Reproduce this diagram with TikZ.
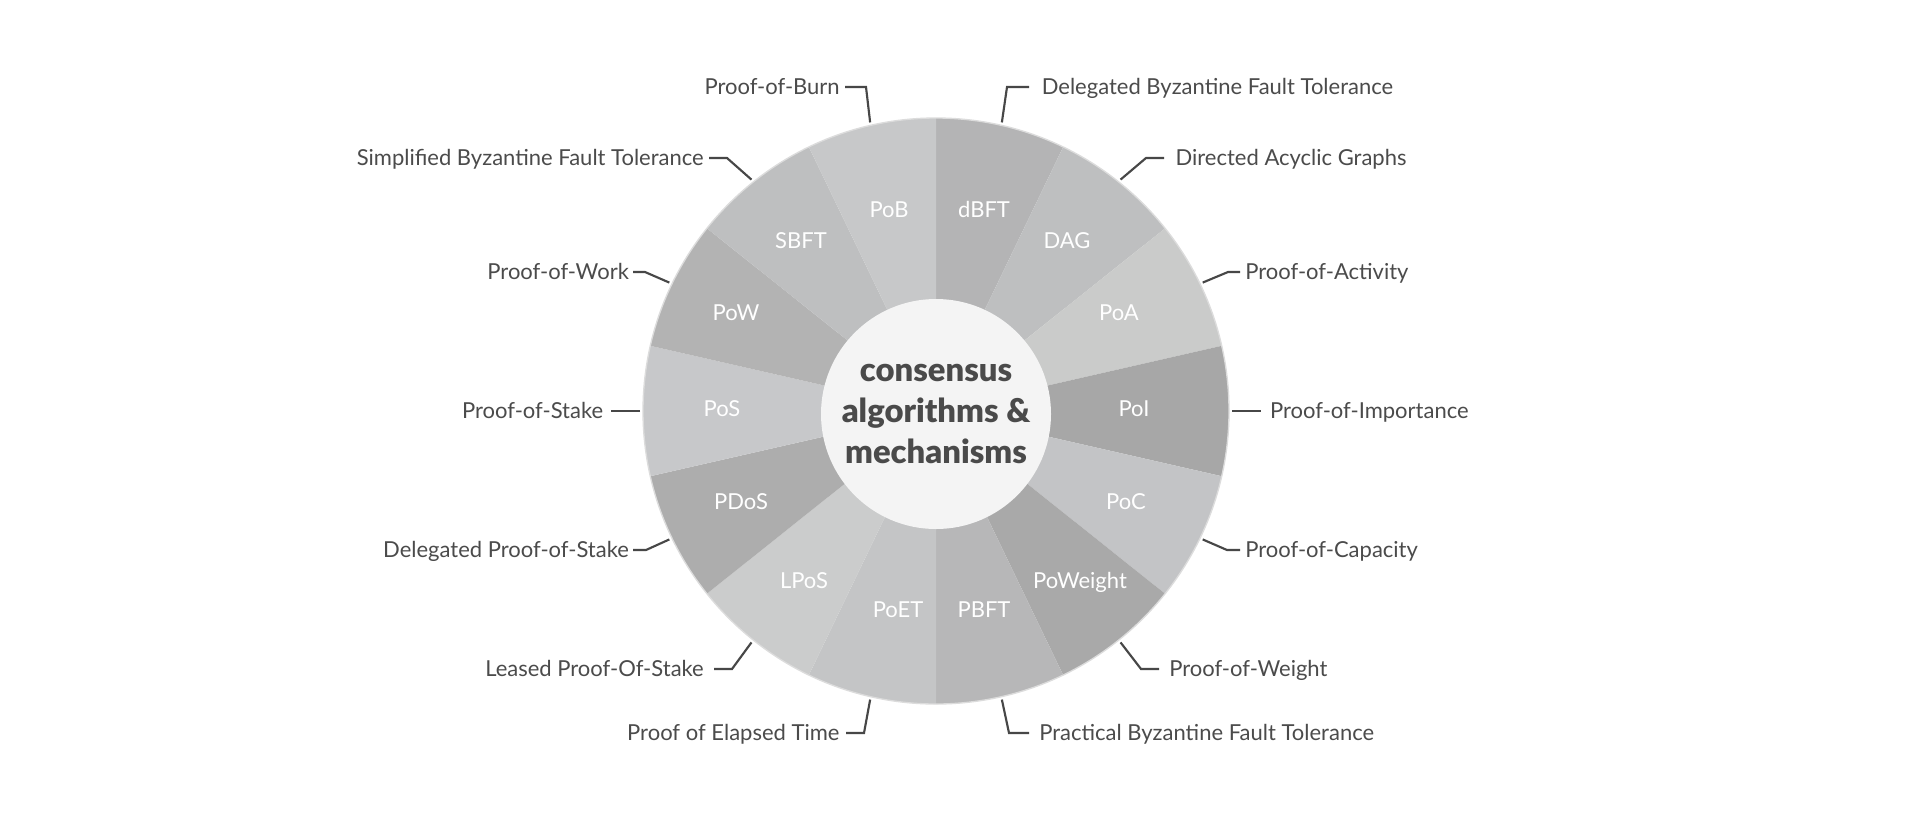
\documentclass[tikz,border=0pt]{standalone}
\usepackage{fontspec}
\setmainfont{Lato}
\newfontfamily\heavyfont{Lato Black}
% wedge fills, clockwise from the top
\definecolor{cdBFT}{HTML}{B4B4B5}
\definecolor{cDAG}{HTML}{BEBFC0}
\definecolor{cPoA}{HTML}{CACBCA}
\definecolor{cPoI}{HTML}{A7A7A7}
\definecolor{cPoC}{HTML}{C3C4C6}
\definecolor{cPoWeight}{HTML}{A9A9A9}
\definecolor{cPBFT}{HTML}{B7B7B8}
\definecolor{cPoET}{HTML}{C4C5C6}
\definecolor{cLPoS}{HTML}{CBCCCC}
\definecolor{cPDoS}{HTML}{ADADAD}
\definecolor{cPoS}{HTML}{C7C8CA}
\definecolor{cPoW}{HTML}{B3B3B3}
\definecolor{cSBFT}{HTML}{BEBFC0}
\definecolor{cPoB}{HTML}{C7C8C9}
\definecolor{corefill}{HTML}{F4F4F4}
\definecolor{coretext}{HTML}{4A4A4A}
\definecolor{labeltext}{HTML}{4B4B4B}
\definecolor{leadgray}{HTML}{474747}
\definecolor{rimgray}{HTML}{DCDCDC}
\begin{document}
\begin{tikzpicture}[x=0.75pt,y=-0.75pt,
  seglbl/.style={text=white, font=\fontsize{16.5}{18}\selectfont, inner sep=0pt,
    text height=11.9pt, text depth=0pt},
  core/.style={circle, fill=corefill, minimum size=172.5pt, inner sep=0pt,
    text=coretext, align=center, font=\heavyfont\fontsize{24.6}{30.4}\selectfont},
  lbl/.style={text=labeltext, font=\fontsize{16.5}{20}\selectfont, inner ysep=0pt,
    inner xsep=6.6pt, text height=11.9pt, text depth=0pt},
  lblL/.style={lbl, anchor=east},
  lblR/.style={lbl, anchor=west},
  leader/.style={draw=leadgray, line width=1.6pt}]
\useasboundingbox (0,0) rectangle (1926,826);
\fill[white] (0,0) rectangle (1926,826);

% the ring of fourteen wedges, clipped to the disc
\begin{scope}[shift={(936,411)}]
  \begin{scope}
    \clip (0,0) circle[radius=293];
    \foreach \nm [count=\i from 0] in {dBFT,DAG,PoA,PoI,PoC,PoWeight,PBFT,PoET,LPoS,PDoS,PoS,PoW,SBFT,PoB} {
      \pgfmathsetmacro\aone{25.7143*\i-90}
      \pgfmathsetmacro\atwo{25.7143*(\i+1)-90}
      \pgfmathsetmacro\amid{25.7143*(\i+0.5)-90}
      \fill[c\nm] (0,0) -- (\aone:420) -- (\amid:420) -- (\atwo:420) -- cycle;
    }
  \end{scope}
  \draw[rimgray, line width=1pt] (0,0) circle[radius=293];
  % leader start points on the rim
  \foreach \nm [count=\i from 0] in {dBFT,DAG,PoA,PoI,PoC,PoWeight,PBFT,PoET,LPoS,PDoS,PoS,PoW,SBFT,PoB} {
    \pgfmathsetmacro\amid{25.7143*(\i+0.5)-90}
    \coordinate (p\nm) at (\amid:296);
  }
  \node[core] (core) at (0,3) {consensus\\algorithms \&\\mechanisms};
\end{scope}

% wedge captions
\foreach \nm/\x/\y in {dBFT/984/210, PoB/889/210, SBFT/801/241, DAG/1067/241,
    PoW/736/313, PoA/1119/313, PoS/722/409, PoI/1134/409, PDoS/741/502,
    PoC/1126/502, LPoS/804/581, PoWeight/1080/581, PoET/898/610, PBFT/984/610}
  \node[seglbl] (s\nm) at (\x,\y) {\nm};

% leader elbows
\coordinate (ePoB) at (866,87);
\coordinate (edBFT) at (1007,87);
\coordinate (eSBFT) at (727,158);
\coordinate (eDAG) at (1146,158);
\coordinate (ePoW) at (645,272);
\coordinate (ePoA) at (1228,272);
\coordinate (ePDoS) at (646,550);
\coordinate (ePoC) at (1227,550);
\coordinate (eLPoS) at (732,669);
\coordinate (ePoWeight) at (1141,669);
\coordinate (ePoET) at (864,733);
\coordinate (ePBFT) at (1009,733);

% outer labels
\node[lblL, inner xsep=3.8pt] (tPoB) at (845,87) {Proof-of-Burn};
\node[lblR, inner xsep=9.4pt] (tdBFT) at (1029,87) {Delegated Byzantine Fault Tolerance};
\node[lblL, inner xsep=3.8pt] (tSBFT) at (709,158) {Simplified Byzantine Fault Tolerance};
\node[lblR, inner xsep=8.5pt] (tDAG) at (1164,158) {Directed Acyclic Graphs};
\node[lblL, inner xsep=2.9pt] (tPoW) at (633,272) {Proof-of-Work};
\node[lblR, inner xsep=3.8pt] (tPoA) at (1240,272) {Proof-of-Activity};
\node[lblL, inner xsep=5.7pt] (tPoS) at (611,411) {Proof-of-Stake};
\node[lblR] (tPoI) at (1261,411) {Proof-of-Importance};
\node[lblL, inner xsep=2.9pt] (tPDoS) at (633,550) {Delegated Proof-of-Stake};
\node[lblR, inner xsep=3.8pt] (tPoC) at (1240,550) {Proof-of-Capacity};
\node[lblL, inner xsep=7.5pt] (tLPoS) at (714,669) {Leased Proof-Of-Stake};
\node[lblR, inner xsep=7.5pt] (tPoWeight) at (1159,669) {Proof-of-Weight};
\node[lblL, inner xsep=4.7pt] (tPoET) at (846,733) {Proof of Elapsed Time};
\node[lblR, inner xsep=7.5pt] (tPBFT) at (1029,733) {Practical Byzantine Fault Tolerance};

% leaders: radial leg, then a short horizontal leg to the label
\foreach \nm in {PoB,SBFT,PoW,PDoS,LPoS,PoET}
  \draw[leader] (p\nm) -- (e\nm) -- (t\nm.east);
\foreach \nm in {dBFT,DAG,PoA,PoC,PoWeight,PBFT}
  \draw[leader] (p\nm) -- (e\nm) -- (t\nm.west);
\draw[leader] (pPoS) -- (tPoS.east);
\draw[leader] (pPoI) -- (tPoI.west);
\end{tikzpicture}
\end{document}
